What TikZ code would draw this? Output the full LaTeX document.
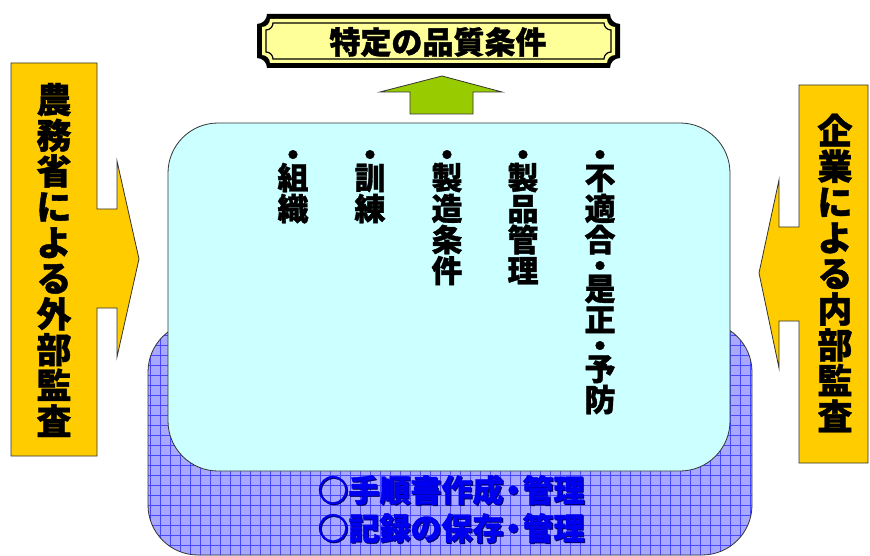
\documentclass[tikz,border=0pt]{standalone}
\usepackage{fontspec}
\newfontfamily\jp{Noto Sans CJK JP}[BoldFeatures={FakeBold=1.2}]
\definecolor{bannerY}{HTML}{FFFF99}
\definecolor{arrowG}{HTML}{99CC00}
\definecolor{auditO}{HTML}{FFCC00}
\definecolor{cyanF}{HTML}{CCFFFF}
\definecolor{blueF}{HTML}{A8A8FF}
\definecolor{blueG}{HTML}{4848FF}
\definecolor{blueT}{HTML}{0000F0}
\definecolor{edgeG}{HTML}{333333}
\newcommand\ntchpath[5]{(#1+#5,#2) -- (#3-#5,#2) arc[start angle=180,end angle=90,radius=#5] -- (#3,#4-#5) arc[start angle=270,end angle=180,radius=#5] -- (#1+#5,#4) arc[start angle=0,end angle=-90,radius=#5] -- (#1,#2+#5) arc[start angle=90,end angle=0,radius=#5] -- cycle}
\newcommand\ndot{\hspace{-6pt}・\hspace{-6pt}}
\tikzset{
  colbox/.style={font=\jp\bfseries\fontsize{31}{31}\selectfont, align=center, anchor=north, inner sep=0pt},
  sidetext/.style={font=\jp\bfseries\fontsize{35}{35.7}\selectfont, align=center, inner sep=0pt},
  bluetext/.style={font=\jp\bfseries\fontsize{31}{33}\selectfont, inner sep=0pt, text=blueT},
  shadowtext/.style={font=\jp\bfseries\fontsize{31}{33}\selectfont, inner sep=0pt, text=black!60!blue},
  shapeedge/.style={draw=edgeG, line width=0.8pt}
}
\begin{document}
\begin{tikzpicture}[x=1pt,y=-1pt]
\useasboundingbox (0,0) rectangle (870,556);
% banner
\fill[black] \ntchpath{257}{14}{620}{68}{10};
\fill[bannerY] \ntchpath{262}{19}{615}{63}{8};
\draw[black, line width=1.2pt] \ntchpath{266}{23}{611}{59}{7};
\node[font=\jp\bfseries\fontsize{31}{32}\selectfont, inner sep=0pt] (title) at (438,42) {特定の品質条件};
% green arrow
\draw[shapeedge, fill=arrowG] (442,76) -- (502,92) -- (473,92) -- (473,114) -- (410,114) -- (410,92) -- (380,92) -- cycle;
% blue box
\begin{scope}
\clip[rounded corners=50pt] (148,322) rectangle (752,555);
\fill[blueF] (148,322) rectangle (752,556);
\foreach \gx in {150,160,...,750} \draw[blueG, line width=0.9pt] (\gx,320) -- (\gx,560);
\foreach \gy in {325,335,...,555} \draw[blueG, line width=0.9pt] (145,\gy) -- (755,\gy);
\end{scope}
\draw[edgeG, line width=0.8pt, rounded corners=50pt] (148,322) rectangle (752,555);
% cyan box
\draw[shapeedge, fill=cyanF, rounded corners=50pt] (168,123) rectangle (730,471);
% left audit arrow
\draw[shapeedge, fill=auditO] (11,63) -- (97,63) -- (97,209) -- (117,209) -- (117,161) -- (139,259) -- (117,357) -- (117,308) -- (97,308) -- (97,456) -- (11,456) -- cycle;
% right audit arrow
\draw[shapeedge, fill=auditO] (868,85) -- (799,85) -- (799,227) -- (779,227) -- (779,180) -- (759,273) -- (779,368) -- (779,321) -- (799,321) -- (799,463) -- (868,463) -- cycle;
% side texts
\node[sidetext] (lefttext) at (54,260) {農\\務\\省\\に\\よ\\る\\外\\部\\監\\査};
\node[sidetext] (righttext) at (835,273) {企\\業\\に\\よ\\る\\内\\部\\監\\査};
% columns
\node[colbox] (col1) at (293,150) {・\\[-8pt]組\\織};
\node[colbox] (col2) at (370,150) {・\\[-8pt]訓\\練};
\node[colbox] (col3) at (447,150) {・\\[-8pt]製\\造\\条\\件};
\node[colbox] (col4) at (523,150) {・\\[-8pt]製\\品\\管\\理};
\node[colbox] (col5) at (600,150) {・\\[-8pt]不\\適\\合\\[-5pt]・\\[-8pt]是\\正\\[-5pt]・\\[-8pt]予\\防};
% blue texts
\node[shadowtext] (l1s) at (452,491) {○手順書作成\ndot 管理};
\node[bluetext] (l1) at (451,490) {○手順書作成\ndot 管理};
\node[shadowtext] (l2s) at (452,529) {○記録の保存\ndot 管理};
\node[bluetext] (l2) at (451,528) {○記録の保存\ndot 管理};
\end{tikzpicture}
\end{document}
